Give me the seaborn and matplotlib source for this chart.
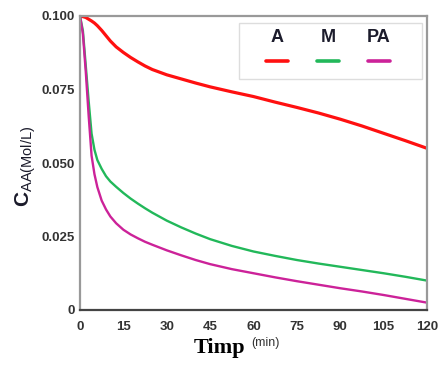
import numpy as np
import pandas as pd
import matplotlib
matplotlib.use('Agg')
import matplotlib.pyplot as plt
import seaborn as sns
from matplotlib.lines import Line2D
from matplotlib.offsetbox import TextArea, DrawingArea, VPacker, HPacker, AnchoredOffsetbox

# data (time in min, concentration in mol/L)
t = [0, 1, 2, 3, 4, 5, 6, 7.5, 9, 10.5, 12.5, 15, 17.5, 20, 22.5, 25, 30, 35, 40, 45,
     52.5, 60, 67.5, 75, 82.5, 90, 97.5, 105, 112.5, 120]
c_A = [0.1000, 0.0998, 0.0995, 0.0989, 0.0983, 0.0976, 0.0967, 0.0951, 0.0933, 0.0915,
       0.0895, 0.0876, 0.0859, 0.0844, 0.0830, 0.0818, 0.0800, 0.0786, 0.0772, 0.0759,
       0.0742, 0.0726, 0.0707, 0.0689, 0.0670, 0.0649, 0.0626, 0.0601, 0.0576, 0.0550]
c_M = [0.1000, 0.0950, 0.0830, 0.0710, 0.0600, 0.0545, 0.0510, 0.0480, 0.0455, 0.0437,
       0.0419, 0.0398, 0.0379, 0.0362, 0.0346, 0.0331, 0.0304, 0.0281, 0.0260, 0.0241,
       0.0218, 0.0199, 0.0184, 0.0170, 0.0158, 0.0147, 0.0136, 0.0125, 0.0113, 0.0100]
c_PA = [0.1000, 0.0939, 0.0810, 0.0660, 0.0525, 0.0462, 0.0418, 0.0372, 0.0342, 0.0318,
        0.0295, 0.0273, 0.0257, 0.0244, 0.0232, 0.0222, 0.0203, 0.0186, 0.0170, 0.0156,
        0.0139, 0.0125, 0.0111, 0.0098, 0.0086, 0.0074, 0.0063, 0.0051, 0.0038, 0.0025]
series = ['A', 'M', 'PA']
colors = ['#ff1010', '#22b85a', '#cc2299']
xticks = [0, 15, 30, 45, 60, 75, 90, 105, 120]
yticks = [0, 0.025, 0.05, 0.075, 0.1]
ytick_labels = ['0', '0.025', '0.050', '0.075', '0.100']

df = pd.concat([
    pd.DataFrame({'t': t, 'c': c_A, 's': 'A'}),
    pd.DataFrame({'t': t, 'c': c_M, 's': 'M'}),
    pd.DataFrame({'t': t, 'c': c_PA, 's': 'PA'}),
])

sns.set_theme(style='white')
plt.rcParams['font.family'] = ['Liberation Sans', 'DejaVu Sans']
plt.rcParams['mathtext.fontset'] = 'custom'
plt.rcParams['mathtext.rm'] = 'Liberation Sans'
plt.rcParams['mathtext.sf'] = 'Liberation Sans'
plt.rcParams['mathtext.bf'] = 'Liberation Sans:bold'

fig = plt.figure(figsize=(4.38, 3.71), dpi=100)
ax = fig.add_axes([80 / 438, 1 - 310 / 371, 347 / 438, 294 / 371])

sns.lineplot(data=df, x='t', y='c', hue='s', palette=dict(zip(series, colors)),
             legend=False, ax=ax)
for ln, lw in zip(ax.lines, [2.3, 1.7, 1.7]):
    ln.set_linewidth(lw)
    ln.set_solid_joinstyle('round')
    ln.set_solid_capstyle('round')

ax.set_xlim(0, 120)
ax.set_ylim(0, 0.1)
ax.set_xticks(xticks)
ax.set_xticklabels([str(v) for v in xticks])
ax.set_yticks(yticks)
ax.set_yticklabels(ytick_labels)
ax.tick_params(axis='x', length=3, width=1.2, pad=5, color='#444', labelsize=9.5, labelcolor='#333')
ax.tick_params(axis='y', length=2.5, width=1.2, pad=1, color='#444', labelsize=9.5, labelcolor='#333')
for lab in ax.get_xticklabels() + ax.get_yticklabels():
    lab.set_fontweight('bold')

for side in ['top', 'right', 'left']:
    ax.spines[side].set_color('#999999')
    ax.spines[side].set_linewidth(1.6)
ax.spines['bottom'].set_color('#444444')
ax.spines['bottom'].set_linewidth(1.6)

ax.set_ylabel(r'$\mathbf{C}_{\mathsf{AA(Mol/L)}}$', fontsize=15, color='#1a1a2a')
ax.yaxis.set_label_coords(-0.12, 0.49)
ax.set_xlabel('Timp', fontsize=16, fontweight='bold', family='Liberation Serif', color='black')
ax.xaxis.set_label_coords((220 - 80) / 347, -0.095)
ax.text((251 - 80) / 347, (310 - 343) / 294, '(min)', transform=ax.transAxes,
        fontsize=9, color='#333', ha='left', va='center')

# legend: label above each short line
px = 72 / 100
cols = []
for name, col in zip(series, colors):
    ta = TextArea(name, textprops=dict(fontsize=13, fontweight='bold', color='#1c1c2c'))
    da = DrawingArea(51 * px, 28 * px, 0, 0)
    da.add_artist(Line2D([14.5 * px, 36.5 * px], [13 * px, 13 * px], color=col, lw=2.6))
    cols.append(VPacker(children=[ta, da], align='center', pad=0, sep=0))
row = HPacker(children=[DrawingArea(7 * px, 1), *cols, DrawingArea(12 * px, 1)],
              align='top', pad=0, sep=0)
box = AnchoredOffsetbox(loc='upper right', child=row, pad=0.36, borderpad=0, frameon=True,
                        bbox_to_anchor=((422 - 80) / 347, (310 - 23) / 294),
                        bbox_transform=ax.transAxes)
box.patch.set_edgecolor('#dddddd')
box.patch.set_linewidth(1.0)
ax.add_artist(box)

fig.savefig('out.png', dpi=100, facecolor='white')
